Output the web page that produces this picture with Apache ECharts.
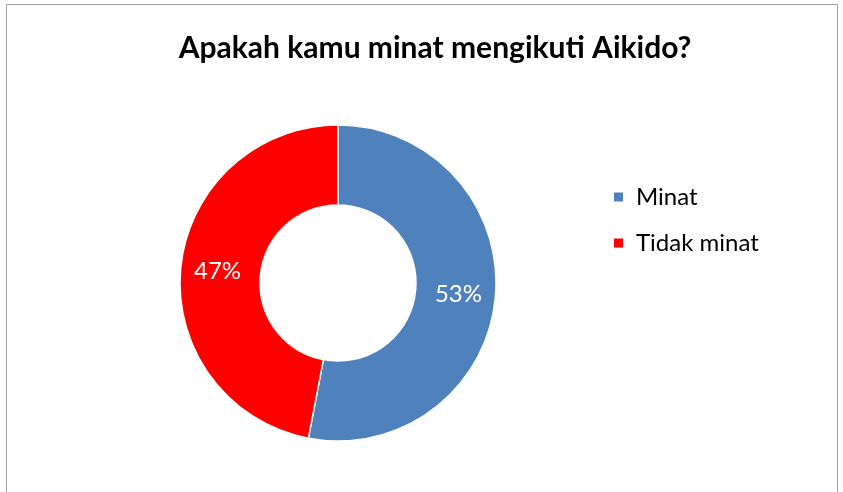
<!DOCTYPE html>
<html>
<head>
<meta charset="utf-8">
<script src="https://cdn.jsdelivr.net/npm/echarts@6/dist/echarts.min.js"></script>
<style>
  html, body { margin: 0; padding: 0; background: #fff; }
  #main { width: 843px; height: 492px; }
</style>
</head>
<body>
<div id="main"></div>
<script>
// chart data
var categories = ['Minat', 'Tidak minat'];
var values = [53, 47];
var colors = ['#4f81bd', '#ff0000'];

var chart = echarts.init(document.getElementById('main'));

var option = {
  animation: false,
  title: {
    text: 'Apakah kamu minat mengikuti Aikido?',
    left: 430,
    top: 28,
    textAlign: 'center',
    textStyle: {
      fontFamily: 'Lato',
      fontWeight: 'bold',
      fontSize: 30,
      color: '#000'
    }
  },
  legend: {
    orient: 'vertical',
    left: 607,
    top: 180,
    itemWidth: 11,
    itemHeight: 11,
    itemGap: 22,
    icon: 'rect',
    data: categories,
    textStyle: {
      fontFamily: 'Lato',
      fontSize: 24,
      lineHeight: 24,
      color: '#000',
      padding: [0, 0, 0, 7]
    }
  },
  graphic: [{
    type: 'rect',
    shape: { x: 6.5, y: 4.5, width: 831, height: 500 },
    style: { fill: 'none', stroke: '#a0a0a0', lineWidth: 1 },
    silent: true
  }],
  series: [{
    type: 'pie',
    center: [338, 283],
    radius: [78, 158],
    startAngle: 90,
    clockwise: true,
    itemStyle: { borderColor: '#fff', borderWidth: 1.5 },
    label: {
      show: true,
      position: 'inside',
      formatter: '{d}%',
      color: '#fff',
      fontFamily: 'Lato',
      fontSize: 24
    },
    labelLine: { show: false },
    data: categories.map(function (name, i) {
      return { name: name, value: values[i], itemStyle: { color: colors[i] } };
    })
  }]
};

chart.setOption(option);
</script>
</body>
</html>
